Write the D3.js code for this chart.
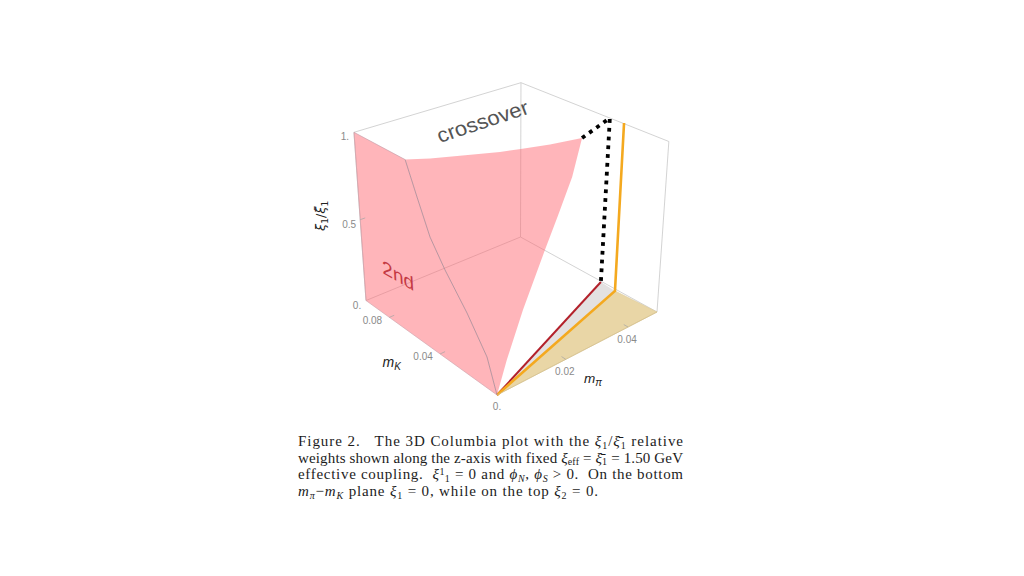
<!DOCTYPE html><html><head><meta charset="utf-8"><style>html,body{margin:0;background:#fff}svg{display:block}</style></head><body><svg id="c" width="1024" height="576"></svg>
<script src="https://cdn.jsdelivr.net/npm/d3@7"></script>
<script>
// ---- data (m_pi, m_K, xi1/xibar1) ----
const piTicks=[0,0.02,0.04], piTickLabels=["0.","0.02","0.04"];
const kTicks=[0,0.04,0.08], kTickLabels=["0.","0.04","0.08"];
const zTicks=[0,0.5,1], zTickLabels=["0.","0.5","1."];
const domainPi=[0,0.05], domainK=[0,0.1], domainZ=[0,1];
// crease: m_pi = 0 boundary of the 2nd-order wall, from the origin up
const creaseK=[0,0.0064,0.0195,0.0342,0.0442,0.0526,0.0602];
const creaseZ=[0,0.18,0.355,0.519,0.652,0.832,1];
// top rim of the surface at xi = 1
const rimPi=[0.0044,0.0101,0.0179,0.0224,0.0289,0.0368];
const rimK=[0.0542,0.0482,0.0400,0.0366,0.0319,0.0280];
// right-hand edge of the surface, from the top down to the origin
const edgePi=[0.0324,0.0261,0.0203,0.0108,0.0041,0];
const edgeK=[0.0246,0.0198,0.0155,0.0082,0.0032,0];
const edgeZ=[0.828,0.682,0.551,0.332,0.14,0];
// critical lines
const redEnd=[0.0497,0.0375,0], dotTop=[0.05,0.0367,1];
const orangeEnd=[0.0493,0.0268,0], orangeTop=[0.0503,0.0281,1];
const rimEnd=[0.0368,0.0280,1];

// ---- perspective camera of the box ----
function solve(A,b){const n=b.length,M=A.map((r,i)=>[...r,b[i]]);for(let i=0;i<n;i++){let p=i;for(let r=i;r<n;r++)if(Math.abs(M[r][i])>Math.abs(M[p][i]))p=r;[M[i],M[p]]=[M[p],M[i]];for(let r=0;r<n;r++)if(r!=i){const f=M[r][i]/M[i][i];for(let c=i;c<=n;c++)M[r][c]-=f*M[i][c];}}return M.map((r,i)=>r[n]/r[i]);}
const O=[497,395,1],P=[657,312,1],K=[366,300.5,1],B=[520.5,237,1],V=[514,2368,1];
const [ca,cb]=solve([0,1,2].map(i=>[P[i],K[i],-B[i]]),O);
const E1=P.map((p,i)=>ca*p-O[i]),E2=K.map((p,i)=>cb*p-O[i]);
const gam=cb*(132.3-K[1])/(V[1]-132.3),E3=V.map(v=>gam*v);
const sx=d3.scaleLinear().domain(domainPi).range([0,1]);
const sy=d3.scaleLinear().domain(domainK).range([0,1]);
const sz=d3.scaleLinear().domain(domainZ).range([0,1]);
function proj(d){const u=sx(d[0]),v=sy(d[1]),w=sz(d[2]);const h=[0,1,2].map(i=>O[i]+u*E1[i]+v*E2[i]+w*E3[i]);return [h[0]/h[2],h[1]/h[2]];}
const line=d3.line().x(d=>proj(d)[0]).y(d=>proj(d)[1]);
const mp=domainPi[1],mk=domainK[1];

const svg=d3.select("#c");
const path=(pts,o)=>{const p=svg.append("path").attr("d",line(pts)+(o.close?"Z":""));
  p.attr("fill",o.fill||"none");if(o.stroke){p.attr("stroke",o.stroke).attr("stroke-width",o.w||1).attr("stroke-linejoin",o.join||"round");if(o.dash)p.attr("stroke-dasharray",o.dash);}return p;};

// back box frame
const grid="#c4c4c4";
[[[0,mk,1],[mp,mk,1]],[[mp,mk,1],[mp,0,1]],[[mp,0,1],[mp,0,0]],[[mp,mk,0],[mp,mk,1]],[[mp,mk,0],[0,mk,0]],[[mp,mk,0],[mp,0,0]],[[0,mk,0],[0,mk,1]]]
 .forEach(s=>path(s,{stroke:grid,w:0.75}));

// floor patches
path([[0,0,0],orangeEnd,[mp,0,0]],{close:true,fill:"#e9d6a6",stroke:"#dcc996",w:0.6});
path([[0,0,0],redEnd,orangeEnd],{close:true,fill:"#e3e1e1"});
path([[0,0,0],redEnd],{stroke:"#b3212b",w:2});
path([[0,0,0],orangeEnd,orangeTop],{stroke:"#f4a91f",w:2.6,join:"miter"});

// pink surfaces
const crease=creaseK.map((k,i)=>[0,k,creaseZ[i]]);
const rim=rimPi.map((p,i)=>[p,rimK[i],1]);
const edge=edgePi.map((p,i)=>[p,edgeK[i],edgeZ[i]]);
const pink="rgba(255,100,110,0.48)";
path([[0,mk,0],[0,mk,1],...crease.slice().reverse()],{close:true,fill:pink});
path([...crease,...rim,...edge],{close:true,fill:pink});
path(crease,{stroke:"#998592",w:0.7});
path([[0,mk,1],crease[crease.length-1]],{stroke:"#c09aa6",w:0.6});
path([[0,0,0],[0,mk,0],[0,mk,1]],{stroke:"#cfa3ab",w:0.65});
path([[0,0,0],[mp,0,0]],{stroke:"#d3bd8a",w:0.7});

// dotted black critical line
path([rimEnd,dotTop,redEnd],{stroke:"#000",w:3.8,dash:"3.8 5",join:"miter"}).attr("stroke-linecap","butt");

// ticks
const tick=(a,b)=>path([a,b],{stroke:"#a5a5a5",w:0.7});
piTicks.slice(1).forEach(t=>tick([t,0,0],[t,0.0028,0]));
kTicks.slice(1).forEach(t=>tick([0,t,0],[0.0014,t,0]));
tick([0,mk,0.5],[0.0014,mk,0.5]);

// tick labels
const sans="'Liberation Sans',Arial,sans-serif";
const lab=(t,x,y)=>svg.append("text").attr("x",x).attr("y",y).attr("text-anchor","middle").attr("font-family",sans).attr("font-size",10).attr("fill","#8a8a8a").text(t);
piTicks.forEach((t,i)=>{if(i){const q=proj([t,0,0]);lab(piTickLabels[i],q[0]-1,q[1]+15.5);}});
kTicks.forEach((t,i)=>{const q=proj([0,t,0]);i?lab(kTickLabels[i],q[0]-17,q[1]+6.5):lab(kTickLabels[i],q[0],q[1]+15);});
zTicks.forEach((t,i)=>{const q=proj([0,mk,t]);lab(zTickLabels[i],q[0]-(i==1?11:9),q[1]+8);});

// axis labels
function rich(parent,segs){segs.forEach(s=>{const t=parent.append("tspan").text(s.t);if(s.i)t.attr("font-style","italic");if(s.fs)t.attr("font-size",s.fs);if(s.dy)t.attr("dy",s.dy);if(s.dx)t.attr("dx",s.dx);});return parent;}
rich(svg.append("text").attr("x",382.5).attr("y",367).attr("font-family",sans).attr("font-size",14).attr("fill","#222"),[{t:"m",i:1},{t:"K",i:1,fs:10,dy:3}]);
rich(svg.append("text").attr("x",584).attr("y",383).attr("font-family",sans).attr("font-size",13.5).attr("fill","#222"),[{t:"m",i:1},{t:"π",i:1,fs:10,dy:3}]);
rich(svg.append("text").attr("transform","translate(325,231) rotate(-90)").attr("font-family","'DejaVu Sans',sans-serif").attr("font-size",13).attr("fill","#222"),[{t:"ξ",i:1},{t:"1",fs:9,dy:3},{t:"/",dy:-3},{t:"ξ\u0304",i:1},{t:"1",fs:9,dy:3}]);

// region labels, lying in the planes of the box
svg.append("text").attr("transform","matrix(.97,-.32,.35,.9,440,143)").attr("font-family",sans).attr("font-size",21.5).attr("fill","#555").text("crossover");
svg.append("text").attr("transform","matrix(.87,.5,.05,.88,382.5,273)").attr("font-family",sans).attr("font-size",22).attr("fill","#c43a44").text("2nd");

// caption
const ms=10;
const captionLines=[
 {y:446,w:385,s:[{t:"Figure 2.   The 3D Columbia plot with the "},{t:"ξ",i:1},{t:"1",fs:ms,dy:2.5},{t:"/",dy:-2.5},{t:"ξ\u0304",i:1},{t:"1",fs:ms,dy:2.5},{t:" relative",dy:-2.5}]},
 {y:462.5,w:385,s:[{t:"weights shown along the z-axis with fixed "},{t:"ξ",i:1},{t:"eff",fs:ms,dy:2.5},{t:" = ",dy:-2.5},{t:"ξ\u0304",i:1},{t:"1",fs:ms,dy:2.5},{t:" = 1.50 GeV",dy:-2.5}]},
 {y:479,w:385,s:[{t:"effective coupling.  "},{t:"ξ",i:1},{t:"1",fs:ms,dy:-4.5},{t:"1",fs:ms,dy:7},{t:" = 0 and ",dy:-2.5},{t:"ϕ",i:1},{t:"N",i:1,fs:ms,dy:2.5},{t:", ",dy:-2.5},{t:"ϕ",i:1},{t:"S",i:1,fs:ms,dy:2.5},{t:" > 0.  On the bottom",dy:-2.5}]},
 {y:496,w:300,s:[{t:"m",i:1},{t:"π",i:1,fs:ms,dy:2.5},{t:"−",dy:-2.5},{t:"m",i:1},{t:"K",i:1,fs:ms,dy:2.5},{t:" plane ",dy:-2.5},{t:"ξ",i:1},{t:"1",fs:ms,dy:2.5},{t:" = 0, while on the top ",dy:-2.5},{t:"ξ",i:1},{t:"2",fs:ms,dy:2.5},{t:" = 0.",dy:-2.5}]}
];
captionLines.forEach(l=>{const t=svg.append("text").attr("x",298).attr("y",l.y).attr("font-family","'Liberation Serif',serif").attr("font-size",15).attr("fill","#1c1c1c").attr("xml:space","preserve").style("white-space","pre").attr("textLength",l.w).attr("lengthAdjust","spacing");rich(t,l.s);});
</script></body></html>
